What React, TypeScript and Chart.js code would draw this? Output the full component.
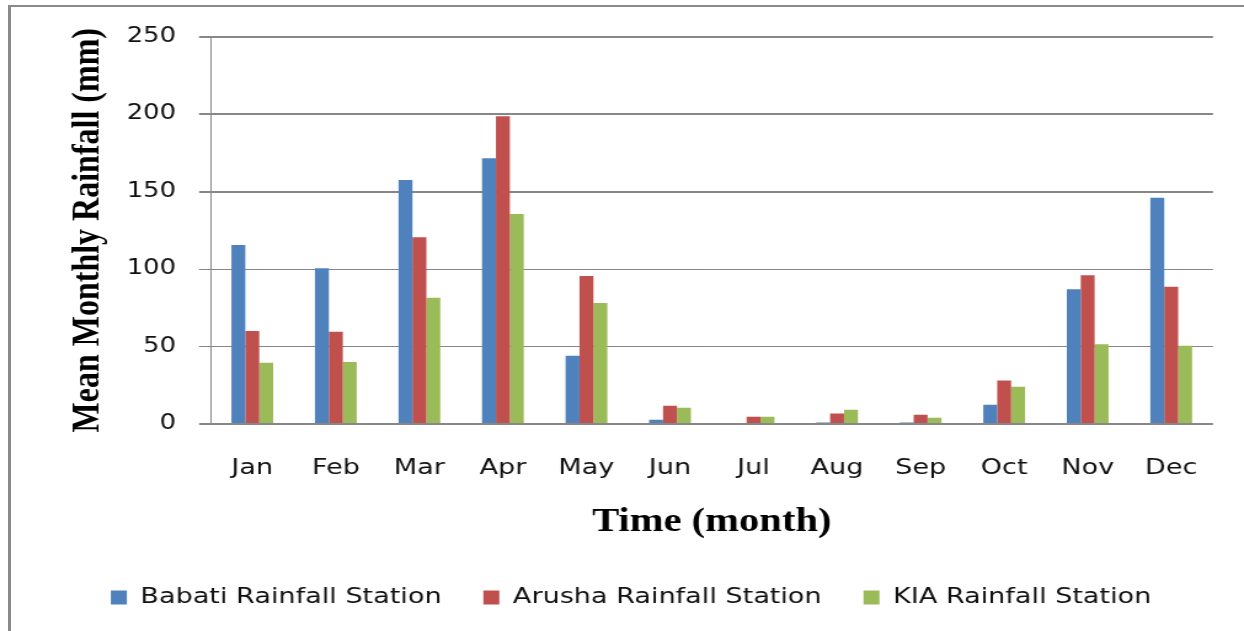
import React, { useEffect, useRef } from 'react';
import { Chart, registerables } from 'chart.js';

Chart.register(...registerables);

// ---- data ----
const months = ['Jan', 'Feb', 'Mar', 'Apr', 'May', 'Jun', 'Jul', 'Aug', 'Sep', 'Oct', 'Nov', 'Dec'];
const babati = [115.5, 100.5, 157.5, 171.5, 44, 2.8, 0, 0.9, 0.9, 12.5, 87, 146];
const arusha = [60, 59.5, 120.5, 198.5, 95.5, 11.8, 4.7, 6.7, 6, 28, 96, 88.5];
const kia = [39.5, 40, 81.5, 135.5, 78, 10.5, 4.7, 9.2, 4.1, 24, 51.5, 50.5];
const seriesNames = ['Babati Rainfall Station', 'Arusha Rainfall Station', 'KIA Rainfall Station'];
const yMin = 0;
const yMax = 250;
const yStep = 50;
const xTitle = 'Time (month)';
const yTitle = 'Mean Monthly Rainfall (mm)';

// the reference is horizontally stretched: draw narrow, display wide
const CANVAS_W = 1011;
const DISPLAY_W = 1244;
const H = 631;

const GRID = '#878787';
const TEXT = '#111111';

export default function App() {
  const ref = useRef<HTMLCanvasElement | null>(null);

  useEffect(() => {
    if (!ref.current) return;
    const chart = new Chart(ref.current, {
      type: 'bar',
      data: {
        labels: months,
        datasets: [
          { label: seriesNames[0], data: babati, backgroundColor: '#4F81BD', categoryPercentage: 0.5, barPercentage: 1.0 },
          { label: seriesNames[1], data: arusha, backgroundColor: '#C0504D', categoryPercentage: 0.5, barPercentage: 1.0 },
          { label: seriesNames[2], data: kia, backgroundColor: '#9BBB59', categoryPercentage: 0.5, barPercentage: 1.0 },
        ],
      },
      options: {
        responsive: false,
        animation: false,
        devicePixelRatio: 1,
        layout: { padding: { left: 40, right: 25.2, top: 36.5, bottom: 12.5 } },
        font: { family: 'DejaVu Sans' },
        plugins: {
          legend: {
            position: 'bottom',
            labels: {
              boxWidth: 13,
              boxHeight: 14,
              padding: 34,
              color: TEXT,
              font: { family: 'DejaVu Sans', size: 22 },
            },
          },
          tooltip: { enabled: false },
        },
        scales: {
          x: {
            grid: { display: false, drawTicks: false },
            border: { display: false },
            ticks: { padding: 31, color: TEXT, font: { family: 'DejaVu Sans', size: 22 } },
            title: {
              display: true,
              text: xTitle,
              color: '#000',
              font: { family: 'Liberation Serif', weight: 'bold', size: 33 },
              padding: { top: 0, bottom: 10 },
            },
            afterFit: (s: any) => {
              s.height = 128.5;
            },
          },
          y: {
            min: yMin,
            max: yMax,
            ticks: {
              stepSize: yStep,
              padding: 18.8,
              color: TEXT,
              font: { family: 'DejaVu Sans', size: 21 },
            },
            grid: {
              color: GRID,
              tickLength: 9.3,
              lineWidth: (ctx: any) => {
                const v = ctx.tick ? ctx.tick.value : 0;
                return v >= 150 || v === 0 ? 2 : 1;
              },
            },
            border: { display: true, color: GRID, width: 1 },
            title: {
              display: true,
              text: yTitle,
              color: '#000',
              font: { family: 'Liberation Serif', weight: 'bold', size: 32 },
              padding: { top: 12.7, bottom: 0 },
            },
            afterFit: (s: any) => {
              s.width = 131.1;
            },
          },
        },
      },
    } as any);
    return () => chart.destroy();
  }, []);

  return (
    <>
      <div
        style={{
          position: 'absolute',
          left: 8,
          top: 5,
          width: DISPLAY_W - 8,
          height: H - 5,
          boxSizing: 'border-box',
          borderLeft: '3px solid #8a8a8a',
          borderTop: '2px solid #8a8a8a',
        }}
      />
      <canvas
        ref={ref}
        width={CANVAS_W}
        height={H}
        style={{ position: 'absolute', left: 0, top: 0, width: DISPLAY_W + 'px', height: H + 'px' }}
      />
    </>
  );
}
